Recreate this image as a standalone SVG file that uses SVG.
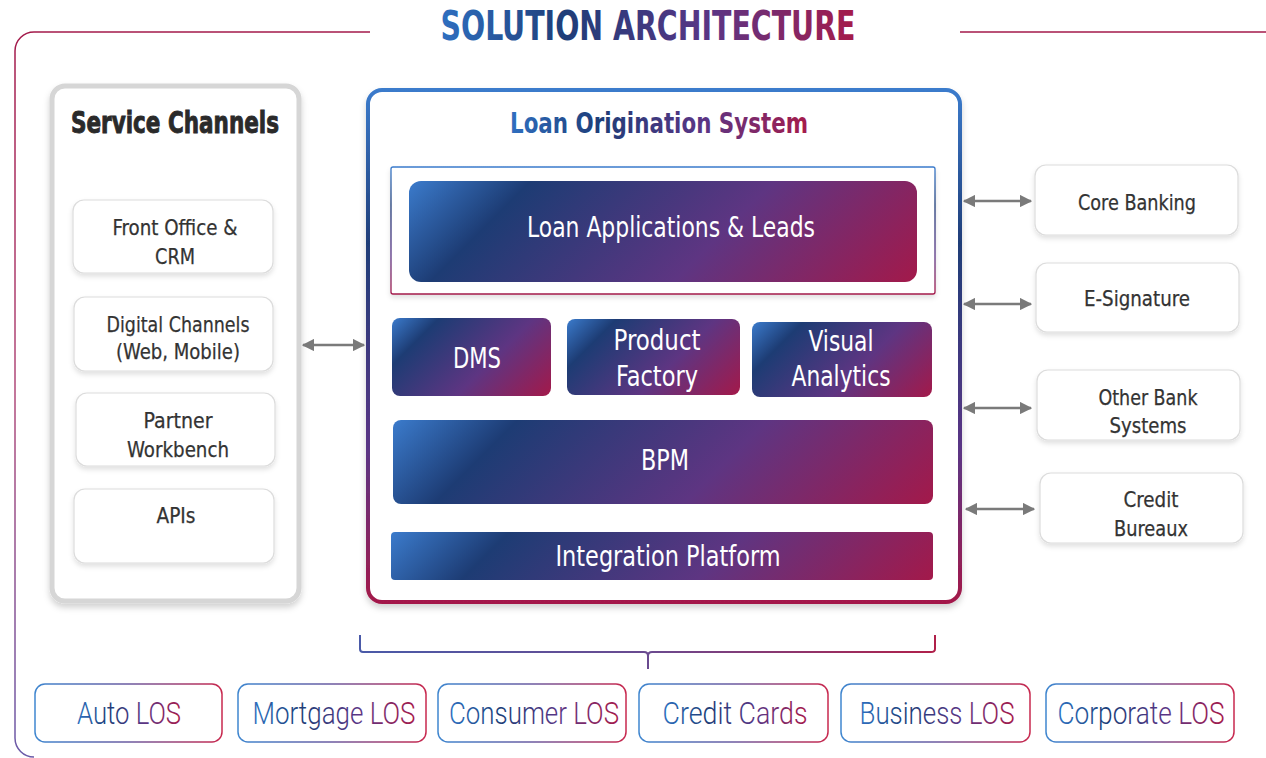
<svg xmlns="http://www.w3.org/2000/svg" width="1266" height="758" viewBox="0 0 1266 758">
<defs>
<style>
.cond{font-family:"DejaVu Sans Condensed","Liberation Sans Narrow","Roboto",sans-serif}
.box{fill:#fff;stroke:#dcdcdc;stroke-width:1.2}
.lbl{font-family:"DejaVu Sans Condensed","Roboto",sans-serif;font-size:22px;fill:#333;stroke:#333;stroke-width:0.25;text-anchor:middle}
.wl{font-family:"DejaVu Sans Condensed","Roboto",sans-serif;font-size:28px;fill:#fff;text-anchor:middle}
.los{fill:#fff;stroke:url(#gH);stroke-width:1.5}
.lt{font-family:"Roboto","DejaVu Sans Condensed",sans-serif;font-weight:300;font-size:31px;fill:url(#gT);text-anchor:middle}
.conn{stroke:#7a7a7a;stroke-width:2.5;fill:none;marker-start:url(#ah);marker-end:url(#ah)}
</style>
<linearGradient id="gF" x1="0" y1="0" x2="1" y2="1">
<stop offset="0" stop-color="#3b7bcc"/><stop offset="0.2" stop-color="#1d3c74"/><stop offset="0.6" stop-color="#5e3582"/><stop offset="1" stop-color="#a3194a"/>
</linearGradient>
<linearGradient id="gLA" href="#gF" gradientUnits="userSpaceOnUse" x1="409" y1="181" x2="713.5" y2="485.5"/>
<linearGradient id="gDMS" href="#gF" gradientUnits="userSpaceOnUse" x1="392" y1="318" x2="510.5" y2="436.5"/>
<linearGradient id="gPF" href="#gF" gradientUnits="userSpaceOnUse" x1="567" y1="319" x2="691.5" y2="443.5"/>
<linearGradient id="gVA" href="#gF" gradientUnits="userSpaceOnUse" x1="752" y1="322" x2="879.5" y2="449.5"/>
<linearGradient id="gBPM" href="#gF" gradientUnits="userSpaceOnUse" x1="393" y1="420" x2="705" y2="732"/>
<linearGradient id="gIP" href="#gF" gradientUnits="userSpaceOnUse" x1="391" y1="532" x2="686" y2="827"/>
<linearGradient id="gT" x1="0" y1="0" x2="1" y2="0">
<stop offset="0" stop-color="#2f6fc0"/><stop offset="0.3" stop-color="#1f3d78"/><stop offset="0.65" stop-color="#5a3585"/><stop offset="1" stop-color="#a51b4b"/>
</linearGradient>
<linearGradient id="gH" x1="0" y1="0" x2="1" y2="0">
<stop offset="0" stop-color="#3f86cf"/><stop offset="0.5" stop-color="#6a5aa0"/><stop offset="1" stop-color="#c8284e"/>
</linearGradient>
<linearGradient id="gV" x1="0" y1="0" x2="0" y2="1">
<stop offset="0" stop-color="#3b7bcc"/><stop offset="0.3" stop-color="#1f3d78"/><stop offset="0.7" stop-color="#5a3585"/><stop offset="1" stop-color="#a3194a"/>
</linearGradient>
<linearGradient id="gFrame" gradientUnits="userSpaceOnUse" x1="0" y1="32" x2="0" y2="757">
<stop offset="0" stop-color="#a3194a"/><stop offset="0.5" stop-color="#b04a7a"/><stop offset="1" stop-color="#6a5aa8"/>
</linearGradient>
<linearGradient id="gBr" gradientUnits="userSpaceOnUse" x1="360" y1="0" x2="935" y2="0">
<stop offset="0" stop-color="#4a5aa8"/><stop offset="0.5" stop-color="#6a4a90"/><stop offset="1" stop-color="#b0204a"/>
</linearGradient>
<filter id="sh" x="-10%" y="-10%" width="120%" height="130%">
<feDropShadow dx="0" dy="4" stdDeviation="3" flood-color="#000" flood-opacity="0.18"/>
</filter>
<filter id="sh2" x="-10%" y="-10%" width="120%" height="130%">
<feDropShadow dx="0" dy="3" stdDeviation="2.5" flood-color="#000" flood-opacity="0.12"/>
</filter>
<marker id="ah" viewBox="0 0 10 10" refX="9" refY="5" markerWidth="5" markerHeight="5" orient="auto-start-reverse" markerUnits="strokeWidth">
<path d="M0,0 L10,5 L0,10 z" fill="#7a7a7a"/>
</marker>
</defs>
<rect width="1266" height="758" fill="#fff"/>

<g id="frame">
<path d="M370,32 H34 A19,19 0 0 0 15,51 V738 A19,19 0 0 0 34,757" fill="none" stroke="url(#gFrame)" stroke-width="1.5"/>
<path d="M960,32 H1266" fill="none" stroke="#a3194a" stroke-width="1.5"/>
<text x="648" y="40" class="cond" font-size="40" font-weight="bold" fill="url(#gT)" text-anchor="middle" textLength="415" lengthAdjust="spacingAndGlyphs">SOLUTION ARCHITECTURE</text>
</g>

<g id="service-channels">
<rect x="52" y="86" width="247" height="515" rx="13" fill="#fff" stroke="#d6d6d6" stroke-width="5" filter="url(#sh)"/>
<text x="175" y="133" class="cond" font-size="30" font-weight="bold" fill="#2a2a2a" stroke="#2a2a2a" stroke-width="0.9" text-anchor="middle" textLength="208" lengthAdjust="spacingAndGlyphs">Service Channels</text>
</g>
<g id="front-office"><rect class="box" x="73" y="200" width="200" height="73" rx="11" filter="url(#sh2)"/><text class="lbl" x="175" y="235" textLength="125" lengthAdjust="spacingAndGlyphs">Front Office &amp;</text><text class="lbl" x="175" y="264" textLength="40" lengthAdjust="spacingAndGlyphs">CRM</text></g>
<g id="digital-channels"><rect class="box" x="74" y="297" width="199" height="74" rx="11" filter="url(#sh2)"/><text class="lbl" x="178" y="332" textLength="143" lengthAdjust="spacingAndGlyphs">Digital Channels</text><text class="lbl" x="178" y="359" textLength="124" lengthAdjust="spacingAndGlyphs">(Web, Mobile)</text></g>
<g id="partner-workbench"><rect class="box" x="76" y="393" width="199" height="73" rx="11" filter="url(#sh2)"/><text class="lbl" x="178" y="428" textLength="69" lengthAdjust="spacingAndGlyphs">Partner</text><text class="lbl" x="178" y="457" textLength="102" lengthAdjust="spacingAndGlyphs">Workbench</text></g>
<g id="apis"><rect class="box" x="74" y="489" width="200" height="74" rx="11" filter="url(#sh2)"/><text class="lbl" x="176" y="523" textLength="39" lengthAdjust="spacingAndGlyphs">APIs</text></g>

<g id="los">
<rect x="368" y="90" width="592" height="512" rx="14" fill="#fff" stroke="url(#gV)" stroke-width="4" filter="url(#sh)"/>
<text x="659" y="133" class="cond" font-size="29" font-weight="bold" fill="url(#gT)" text-anchor="middle" textLength="298" lengthAdjust="spacingAndGlyphs">Loan Origination System</text>
</g>
<g id="loan-apps-frame"><rect x="391" y="167" width="544" height="127" rx="2" fill="#fff" stroke="url(#gV)" stroke-width="1.3" filter="url(#sh2)"/></g>
<g id="loan-apps"><rect x="409" y="181" width="508" height="101" rx="12" fill="url(#gLA)"/><text class="wl" x="671" y="237" textLength="288" lengthAdjust="spacingAndGlyphs">Loan Applications &amp; Leads</text></g>
<g id="dms"><rect x="392" y="318" width="159" height="78" rx="8" fill="url(#gDMS)"/><text class="wl" x="477" y="368" textLength="48" lengthAdjust="spacingAndGlyphs">DMS</text></g>
<g id="product-factory"><rect x="567" y="319" width="173" height="76" rx="8" fill="url(#gPF)"/><text class="wl" x="657" y="350" textLength="87" lengthAdjust="spacingAndGlyphs">Product</text><text class="wl" x="657" y="386" textLength="82" lengthAdjust="spacingAndGlyphs">Factory</text></g>
<g id="visual-analytics"><rect x="752" y="322" width="180" height="75" rx="8" fill="url(#gVA)"/><text class="wl" x="841" y="351" textLength="65" lengthAdjust="spacingAndGlyphs">Visual</text><text class="wl" x="841" y="386" textLength="99" lengthAdjust="spacingAndGlyphs">Analytics</text></g>
<g id="bpm"><rect x="393" y="420" width="540" height="84" rx="8" fill="url(#gBPM)"/><text class="wl" x="665" y="470" textLength="48" lengthAdjust="spacingAndGlyphs">BPM</text></g>
<g id="integration"><rect x="391" y="532" width="542" height="48" rx="4" fill="url(#gIP)"/><text class="wl" x="668" y="566" textLength="225" lengthAdjust="spacingAndGlyphs">Integration Platform</text></g>

<g id="core-banking"><rect class="box" x="1035" y="165" width="203" height="70" rx="11" filter="url(#sh2)"/><text class="lbl" x="1137" y="210" textLength="118" lengthAdjust="spacingAndGlyphs">Core Banking</text></g>
<g id="e-signature"><rect class="box" x="1036" y="263" width="203" height="69" rx="11" filter="url(#sh2)"/><text class="lbl" x="1137" y="306" textLength="106" lengthAdjust="spacingAndGlyphs">E-Signature</text></g>
<g id="other-bank"><rect class="box" x="1037" y="370" width="203" height="70" rx="11" filter="url(#sh2)"/><text class="lbl" x="1148" y="405" textLength="99" lengthAdjust="spacingAndGlyphs">Other Bank</text><text class="lbl" x="1148" y="433" textLength="77" lengthAdjust="spacingAndGlyphs">Systems</text></g>
<g id="credit-bureaux"><rect class="box" x="1040" y="473" width="203" height="70" rx="11" filter="url(#sh2)"/><text class="lbl" x="1151" y="507" textLength="55" lengthAdjust="spacingAndGlyphs">Credit</text><text class="lbl" x="1151" y="536" textLength="74" lengthAdjust="spacingAndGlyphs">Bureaux</text></g>

<g id="connectors">
<path class="conn" d="M303,345 H364"/>
<path class="conn" d="M964,201 H1031"/>
<path class="conn" d="M964,304 H1031"/>
<path class="conn" d="M964,408 H1031"/>
<path class="conn" d="M966,509 H1034"/>
<path d="M360,635 V649 Q360,652 363,652 H644 Q648,652 648,656 V669 M648,656 Q648,652 652,652 H931 Q935,652 935,649 V635" fill="none" stroke="url(#gBr)" stroke-width="2"/>
</g>

<g id="auto-los"><rect class="los" x="35" y="684" width="187" height="58" rx="10"/><text class="lt" x="129" y="724" textLength="104" lengthAdjust="spacingAndGlyphs">Auto LOS</text></g>
<g id="mortgage-los"><rect class="los" x="238" y="684" width="188" height="58" rx="10"/><text class="lt" x="334" y="724" textLength="163" lengthAdjust="spacingAndGlyphs">Mortgage LOS</text></g>
<g id="consumer-los"><rect class="los" x="438" y="684" width="188" height="58" rx="10"/><text class="lt" x="534" y="724" textLength="170" lengthAdjust="spacingAndGlyphs">Consumer LOS</text></g>
<g id="credit-cards"><rect class="los" x="639" y="684" width="189" height="58" rx="10"/><text class="lt" x="735" y="724" textLength="145" lengthAdjust="spacingAndGlyphs">Credit Cards</text></g>
<g id="business-los"><rect class="los" x="841" y="684" width="189" height="58" rx="10"/><text class="lt" x="937" y="724" textLength="155" lengthAdjust="spacingAndGlyphs">Business LOS</text></g>
<g id="corporate-los"><rect class="los" x="1046" y="684" width="188" height="58" rx="10"/><text class="lt" x="1141" y="724" textLength="167" lengthAdjust="spacingAndGlyphs">Corporate LOS</text></g>
</svg>
